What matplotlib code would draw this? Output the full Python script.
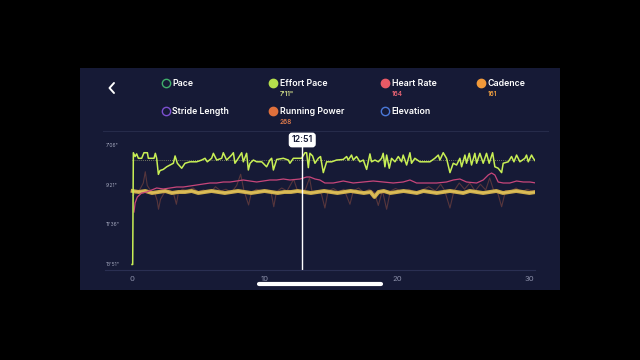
import matplotlib
matplotlib.use('Agg')
import matplotlib.pyplot as plt
import matplotlib.transforms as mtrans

plt.rcParams['font.family'] = ['Inter', 'DejaVu Sans']

# effort pace, seconds per mile, against elapsed minutes
ep_t = [0.0, 0.05, 0.10, 0.23, 0.35, 0.48, 0.73, 0.90, 1.16, 1.23, 1.66, 1.76, 1.86, 1.99,
        2.11, 2.36, 2.62, 2.87, 3.12, 3.25, 3.42, 3.75, 4.00, 4.38, 4.88, 5.26, 5.51, 5.68,
        6.01, 6.14, 6.39, 6.77, 6.89, 7.14, 7.52, 7.65, 7.77, 8.02, 8.28, 8.40, 8.65, 8.78,
        8.91, 9.16, 9.41, 9.79, 10.16, 10.41, 10.54, 10.67, 10.92, 11.42, 11.80, 11.92,
        12.18, 12.80, 13.06, 13.18, 13.31, 13.43, 13.63, 13.81, 14.06, 14.23, 14.44, 14.69,
        15.07, 15.44, 15.95, 16.20, 16.32, 16.57, 16.70, 16.95, 17.20, 17.46, 17.71, 17.96,
        18.08, 18.34, 18.59, 18.84, 18.96, 19.09, 19.22, 19.42, 19.59, 19.85, 20.10, 20.35,
        20.47, 20.73, 20.98, 21.10, 21.35, 21.73, 22.11, 22.49, 22.86, 23.12, 23.24, 23.49,
        23.74, 24.00, 24.25, 24.50, 24.75, 24.88, 25.13, 25.25, 25.46, 25.63, 25.88, 26.01,
        26.26, 26.51, 26.76, 26.96, 27.22, 27.39, 27.64, 27.90, 28.02, 28.40, 28.65, 28.83,
        29.03, 29.28, 29.66, 29.78, 29.91, 30.16, 30.29, 30.49]
ep_pace = [831, 831, 449, 462, 453, 468, 468, 449, 449, 468, 468, 451, 468, 523,
           510, 506, 497, 491, 485, 460, 485, 502, 485, 480, 480, 474, 468, 480,
           468, 451, 474, 468, 449, 474, 457, 449, 485, 468, 449, 480, 451, 508,
           485, 474, 480, 480, 497, 474, 468, 508, 472, 468, 474, 485,
           468, 468, 449, 449, 500, 451, 460, 485, 468, 462, 517, 480,
           480, 474, 472, 462, 474, 457, 474, 462, 480, 474, 506, 453,
           480, 474, 480, 468, 451, 497, 457, 502, 468, 480, 462, 480,
           457, 491, 449, 485, 468, 480, 480, 480, 468, 457, 474, 449,
           468, 517, 485, 491, 468, 497, 457, 485, 451, 491, 451, 485,
           451, 485, 451, 485, 449, 497, 502, 517, 485, 480, 462, 480,
           457, 480, 468, 457, 480, 457, 468, 480]
ep_avg = 473

# heart rate, bpm
hr_t = [0.15, 0.23, 0.40, 0.73, 1.11, 1.48, 1.86, 2.36, 2.87, 3.37, 3.87, 4.38, 4.88, 5.38,
        5.89, 6.39, 6.89, 7.40, 7.90, 8.40, 8.90, 9.41, 9.91, 10.41, 10.92, 11.42, 11.92,
        12.68, 13.18, 13.43, 13.81, 14.18, 14.56, 15.19, 15.95, 16.70, 17.46, 18.21, 18.96,
        19.72, 20.47, 20.98, 21.48, 22.24, 22.99, 23.74, 24.25, 24.75, 25.25, 26.01, 26.51,
        26.89, 27.14, 27.39, 27.64, 28.02, 28.52, 29.03, 29.53, 30.04, 30.49]
hr_bpm = [131, 140, 146, 150, 151, 153, 155, 154, 155, 156, 156, 157, 158, 159,
          160, 160, 161, 161, 162, 163, 162, 161, 162, 163, 163, 164, 163,
          164, 166, 166, 164, 163, 160, 160, 162, 160, 161, 162, 161,
          160, 161, 163, 160, 160, 160, 161, 163, 164, 161, 160, 163,
          168, 170, 168, 161, 160, 160, 162, 161, 161, 160]

# cadence, spm
cad_t = [0.05, 0.5, 1.0, 1.5, 2.0, 2.5, 3.0, 3.5, 4.0, 4.5, 5.0, 5.5, 6.0, 6.5, 7.0, 7.5,
         8.0, 8.5, 9.0, 9.5, 10.0, 10.5, 11.0, 11.5, 12.0, 12.5, 13.0, 13.5, 14.0, 14.5,
         15.0, 15.5, 16.0, 16.5, 17.0, 17.5, 18.0, 18.3, 18.6, 19.0, 19.5, 20.0, 20.5,
         21.0, 21.5, 22.0, 22.5, 23.0, 23.5, 24.0, 24.5, 25.0, 25.5, 26.0, 26.5, 27.0,
         27.5, 28.0, 28.5, 29.0, 29.5, 30.0, 30.49]
cad_spm = [162, 161, 162, 160, 161, 162, 160, 161, 161, 162, 160, 161, 162, 161, 160, 161,
           162, 161, 160, 161, 162, 161, 160, 161, 161, 162, 161, 160, 161, 162,
           161, 160, 161, 162, 161, 160, 161, 156, 161, 162, 160, 161, 162,
           161, 160, 162, 161, 160, 161, 162, 161, 160, 162, 161, 160, 161,
           162, 160, 161, 162, 161, 160, 161]

# running power, W
pw_t = [0.05, 0.3, 0.6, 0.85, 1.0, 1.15, 1.4, 1.7, 1.9, 2.0, 2.15, 2.4, 2.8, 3.1, 3.35, 3.5,
        3.8, 4.2, 4.6, 5.0, 5.4, 5.9, 6.3, 6.7, 7.1, 7.5, 7.9, 8.2, 8.45, 8.8, 9.0, 9.4,
        9.8, 10.2, 10.5, 10.7, 10.9, 11.3, 11.7, 12.2, 12.5, 12.85, 13.1, 13.4, 13.6, 14.0,
        14.3, 14.56, 14.8, 15.2, 15.6, 16.0, 16.45, 16.7, 17.1, 17.5, 17.9, 18.3, 18.59,
        18.9, 19.22, 19.5, 19.9, 20.4, 20.9, 21.4, 21.9, 22.4, 22.9, 23.3, 23.6, 24.0,
        24.3, 24.7, 25.1, 25.5, 25.9, 26.3, 26.7, 27.0, 27.3, 27.6, 27.9, 28.2, 28.6,
        29.0, 29.4, 29.8, 30.2, 30.49]
pw_watts = [250, 262, 275, 300, 345, 290, 270, 262, 230, 195, 235, 258, 272, 265, 215, 262,
            275, 270, 280, 265, 272, 262, 285, 268, 275, 262, 290, 335, 270, 212, 260, 275,
            268, 272, 262, 205, 265, 280, 268, 315, 268, 268, 275, 320, 262, 270,
            255, 200, 268, 278, 265, 275, 215, 268, 280, 262, 275, 262, 210,
            270, 195, 268, 278, 265, 275, 262, 272, 285, 268, 295, 270, 200,
            268, 300, 275, 300, 268, 295, 272, 320, 270, 262, 205, 270, 268,
            280, 262, 275, 268, 270]

pace_ticks = [426, 561, 696, 831]
pace_labels = ["7'06\"", "9'21\"", "11'36\"", "13'51\""]
x_ticks = [0, 10, 20, 30]
cursor_t = 12.85
cursor_label = '12:51'

legend_names = ['Pace', 'Effort Pace', 'Heart Rate', 'Cadence',
                'Stride Length', 'Running Power', 'Elevation']
legend_colors = ['#3fae6a', '#b5e04c', '#ea5a66', '#f29a3a',
                 '#7b4fd0', '#e0703c', '#4a78d8']
legend_filled = [False, True, True, True, False, True, False]
legend_values = ['', "7'11\"", '164', '161', '', '268', '']
value_colors = ['', '#d4e08a', '#e86474', '#f0a040', '', '#e27c4c', '']

navy = '#161a36'
grey = '#8c90aa'

fig = plt.figure(figsize=(6.4, 3.6), dpi=100, facecolor='black')

# screen overlay in pixel units
ui = fig.add_axes([0, 0, 1, 1], zorder=0)
ui.set_xlim(0, 640)
ui.set_ylim(360, 0)
ui.axis('off')
ui.add_patch(plt.Rectangle((80, 68), 480, 222, facecolor=navy, edgecolor='none'))
ui.plot([114, 109.5, 114], [83, 88, 93], color='white', lw=1.4, solid_capstyle='round',
        solid_joinstyle='round')
ui.plot([103, 548], [131, 131], color='#262b4a', lw=0.8)
ui.plot([259, 381], [284, 284], color='white', lw=3, solid_capstyle='round')

col_x = [166, 273, 385, 481]
row_y = [83, 111]
for i, name in enumerate(legend_names):
    cx = col_x[i % 4] if i < 4 else col_x[i - 4]
    cy = row_y[0] if i < 4 else row_y[1]
    ui.plot(cx, cy, marker='o', ms=6, mew=1.0, mec=legend_colors[i],
            mfc=legend_colors[i] if legend_filled[i] else 'none')
    ui.text(cx + 6.5, cy, name, color='white', fontsize=6.3, fontweight='semibold',
            ha='left', va='center')
    if legend_values[i]:
        ui.text(cx + 7, cy + 11, legend_values[i], color=value_colors[i], fontsize=4.6,
                fontweight='semibold', ha='left', va='center')

# chart axes, one hidden scale per series
rect = [105 / 640, 90 / 360, 430 / 640, 130 / 360]
ax_pw = fig.add_axes(rect, zorder=1)
ax_cad = fig.add_axes(rect, zorder=2)
ax_hr = fig.add_axes(rect, zorder=3)
ax = fig.add_axes(rect, zorder=4)
for a in (ax_pw, ax_cad, ax_hr, ax):
    a.patch.set_visible(False)
    a.set_xlim(-2.04, 30.42)
for a in (ax_pw, ax_cad, ax_hr):
    a.axis('off')

ax_pw.set_ylim(-48, 472)
ax_pw.plot(pw_t, pw_watts, color='#d06a48', lw=0.8, alpha=0.35)

ax_cad.set_ylim(83, 213)
ax_cad.plot(cad_t, cad_spm, color='#cfae4c', lw=2.8)
ax_cad.plot(cad_t, cad_spm, color='#e0c460', lw=1.0, alpha=0.8)

ax_hr.set_ylim(73, 203)
ax_hr.plot(hr_t, hr_bpm, color='#c8467a', lw=0.9)

ax.set_ylim(849.8, 405.5)
ax.plot([0, 30.49], [ep_avg, ep_avg], color='#8f9470', lw=0.6, ls=(0, (1, 1.5)))
ax.plot(ep_t, ep_pace, color='#c8ef55', lw=1.1)

for s in ['top', 'left', 'right']:
    ax.spines[s].set_visible(False)
ax.spines['bottom'].set_color('#2a2f52')
ax.spines['bottom'].set_linewidth(0.8)
ax.set_yticks([])
ax.set_xticks(x_ticks)
ax.set_xticklabels([str(v) for v in x_ticks])
ax.tick_params(axis='x', length=0, pad=4, labelsize=5.5, labelcolor=grey)

for v, lab in zip(pace_ticks, pace_labels):
    ax.text(-2.0, v, lab, color='#a2a6bc', fontsize=3.6, ha='left', va='center')

# cursor
ax.axvline(cursor_t, ymin=0, ymax=0.945, color='white', lw=1.0)
tr = mtrans.blended_transform_factory(ax.transData, ax.transAxes)
ax.text(cursor_t, 1.0, cursor_label, transform=tr, ha='center', va='center',
        fontsize=6.3, fontweight='semibold', color='#161a36', clip_on=False,
        bbox=dict(boxstyle='round,pad=0.25,rounding_size=0.3', facecolor='white',
                  edgecolor='white'))

fig.savefig('out.png', dpi=100, facecolor='black')
